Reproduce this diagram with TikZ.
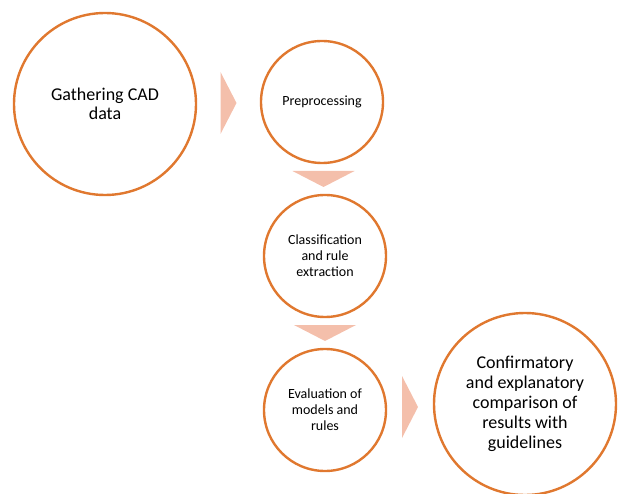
\documentclass[tikz,border=0pt]{standalone}
\usepackage{fontspec}
\setmainfont{Carlito}
\usepackage{tikz}
\usetikzlibrary{positioning}
\usetikzlibrary{calc}
\definecolor{ringorange}{HTML}{E0782F}
\definecolor{arrowpink}{HTML}{F4BFAB}

\begin{document}
\begin{tikzpicture}[x=1pt,y=-1pt,
    ring/.style={circle, draw=ringorange, line width=2.4pt, fill=white, align=center, inner sep=0pt},
    bigring/.style={ring, minimum size=182pt, font=\fontsize{18}{19.5}\selectfont},
    smallring/.style={ring, minimum size=122pt, font=\fontsize{14}{16}\selectfont},
    flow/.style={fill=arrowpink}]
  \useasboundingbox (0,0) rectangle (618,494);

  % process steps
  \node[bigring] (gather) at (105,104) {Gathering CAD\\data};
  \node[smallring] (prep) at (322,102) {Preprocessing};
  \node[smallring] (classify) at (325,256) {Classification\\and rule\\extraction};
  \node[smallring] (evaluate) at (325,410) {Evaluation of\\models and\\rules};
  \node[bigring, font=\fontsize{18}{20}\selectfont] (compare) at (525,404) {Confirmatory\\and explanatory\\comparison of\\results with\\guidelines};

  % sideways arrows
  \foreach \a/\b in {gather/prep, evaluate/compare} {
    \fill[flow] ($(\a.east)!0.5!(\b.west)$) ++(-8,-31) -- ++(16,31) -- ++(-16,31) -- cycle;
  }

  % downward arrows
  \foreach \a/\b in {prep/classify, classify/evaluate} {
    \fill[flow] ($(\a.south)!0.5!(\b.north)$) ++(-31,-8) -- ++(31,16) -- ++(31,-16) -- cycle;
  }
\end{tikzpicture}
\end{document}
